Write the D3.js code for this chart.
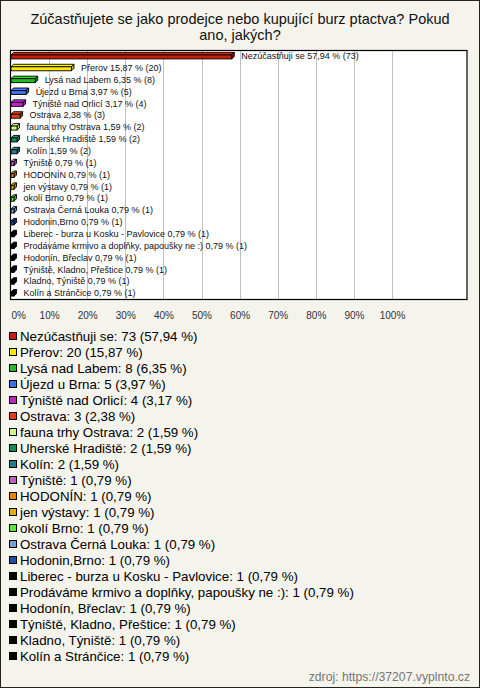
<!DOCTYPE html>
<html><head><meta charset="utf-8">
<script src="https://cdn.jsdelivr.net/npm/d3@7"></script>
<style>
html,body{margin:0;padding:0;background:#f4f3ec;}
svg{display:block;}
</style></head>
<body>
<svg id="chart" width="480" height="688"></svg>
<script>
const titleLines = ["Zúčastňujete se jako prodejce nebo kupující burz ptactva? Pokud", "ano, jakých?"];
const categories = ["Nezúčastňuji se","Přerov","Lysá nad Labem","Újezd u Brna","Týniště nad Orlicí","Ostrava","fauna trhy Ostrava","Uherské Hradiště","Kolín","Týniště","HODONÍN","jen výstavy","okolí Brno","Ostrava Černá Louka","Hodonin,Brno","Liberec - burza u Kosku - Pavlovice","Prodáváme krmivo a doplňky, papoušky ne :)","Hodonín, Břeclav","Týniště, Kladno, Přeštice","Kladno, Týniště","Kolín a Stránčice"];
const counts = [73,20,8,5,4,3,2,2,2,1,1,1,1,1,1,1,1,1,1,1,1];
const percents = [57.94,15.87,6.35,3.97,3.17,2.38,1.59,1.59,1.59,0.79,0.79,0.79,0.79,0.79,0.79,0.79,0.79,0.79,0.79,0.79,0.79];
const colors = ["#c41e0e","#ffe500","#1fbf1f","#3f6fef","#c31fcf","#e0400c","#c8ff80","#0f8f5f","#1f7f8f","#bf5fbf","#ef7f00","#dfaf00","#4fef2f","#6f9fdf","#1f4faf","#000000","#000000","#000000","#000000","#000000","#000000"];
const tickValues = [0,10,20,30,40,50,60,70,80,90,100];
const sourceText = "zdroj: https://37207.vyplnto.cz";

const svg = d3.select("#chart");
const fmt = v => v.toFixed(2).replace(".", ",");

// outer border
svg.append("rect").attr("x",0.5).attr("y",0.5).attr("width",479).attr("height",687)
  .attr("fill","#f4f3ec").attr("stroke","#222").attr("stroke-width",1);

// title
svg.append("g").selectAll("text").data(titleLines).join("text")
  .attr("x",240).attr("y",(d,i)=>23.5+i*16).attr("text-anchor","middle")
  .attr("font-family","Liberation Sans, Arial, sans-serif").attr("font-size",14.5).attr("fill","#111")
  .text(d=>d);

const plot = {left:10.5, right:467, top:50.5, bottom:299.5};
const x = d3.scaleLinear().domain([0,100]).range([11,392]);
const y = d3.scaleBand().domain(categories).range([50,299]).padding(0);

svg.append("rect").attr("x",plot.left).attr("y",plot.top)
  .attr("width",plot.right-plot.left).attr("height",plot.bottom-plot.top)
  .attr("fill","#fff");

// grid
svg.append("g").selectAll("line").data(tickValues.slice(1)).join("line")
  .attr("x1",d=>Math.round(x(d))+0.5).attr("x2",d=>Math.round(x(d))+0.5)
  .attr("y1",plot.top).attr("y2",plot.bottom).attr("stroke","#c0c0c0").attr("stroke-width",1);

// 3D bars
const depth = 2.5, fh = 4;
const bars = svg.append("g").selectAll("g").data(categories).join("g");
bars.each(function(c,i){
  const g = d3.select(this);
  const x0 = x(0), x1 = x(percents[i]);
  const cy = y(c) + y.bandwidth()/2;
  const yt = cy - fh/2 + 1, yb = yt + fh;
  const col = d3.color(colors[i]);
  g.append("path").attr("d",`M${x0},${yt}L${x0+depth},${yt-depth}L${x1+depth},${yt-depth}L${x1},${yt}Z`)
    .attr("fill",col.brighter(0.4)).attr("stroke","#000").attr("stroke-width",0.9);
  g.append("path").attr("d",`M${x1},${yt}L${x1+depth},${yt-depth}L${x1+depth},${yb-depth}L${x1},${yb}Z`)
    .attr("fill",col.darker(0.6)).attr("stroke","#000").attr("stroke-width",0.9);
  g.append("rect").attr("x",x0).attr("y",yt).attr("width",Math.max(0,x1-x0)).attr("height",fh)
    .attr("fill",col).attr("stroke","#000").attr("stroke-width",0.9);
  g.append("text").attr("x",x1+depth+7).attr("y",cy).attr("dy","0.35em")
    .attr("font-family","Liberation Sans, Arial, sans-serif").attr("font-size",9).attr("fill","#111")
    .text(`${c} ${fmt(percents[i])} % (${counts[i]})`);
});

// plot border
svg.append("rect").attr("x",plot.left).attr("y",plot.top)
  .attr("width",plot.right-plot.left).attr("height",plot.bottom-plot.top)
  .attr("fill","none").attr("stroke","#000").attr("stroke-width",1.2);

// x axis
const axis = d3.axisBottom(x).tickValues(tickValues).tickFormat(d=>d+"%").tickSize(0).tickPadding(0);
const ag = svg.append("g").attr("transform","translate(0,312)").call(axis);
ag.select(".domain").remove();
ag.selectAll("text").attr("font-family","Liberation Sans, Arial, sans-serif").attr("font-size",10).attr("fill","#333");
ag.selectAll(".tick").filter(d=>d===0).select("text").attr("text-anchor","start");

// legend
const ly = d3.scaleLinear().domain([0,categories.length-1]).range([336,656]);
const lg = svg.append("g").selectAll("g").data(categories).join("g")
  .attr("transform",(d,i)=>`translate(0,${ly(i)})`);
lg.append("rect").attr("x",9.5).attr("y",-3.5).attr("width",7).attr("height",7)
  .attr("fill",(d,i)=>colors[i]).attr("stroke","#000").attr("stroke-width",1);
lg.append("text").attr("x",20).attr("y",0).attr("dy","0.36em")
  .attr("font-family","Liberation Sans, Arial, sans-serif").attr("font-size",13.3).attr("fill","#000")
  .text((d,i)=>`${d}: ${counts[i]} (${fmt(percents[i])} %)`);

// source
svg.append("text").attr("x",470).attr("y",681).attr("text-anchor","end")
  .attr("font-family","Liberation Sans, Arial, sans-serif").attr("font-size",12.2).attr("fill","#777")
  .text(sourceText);
</script>
</body></html>
